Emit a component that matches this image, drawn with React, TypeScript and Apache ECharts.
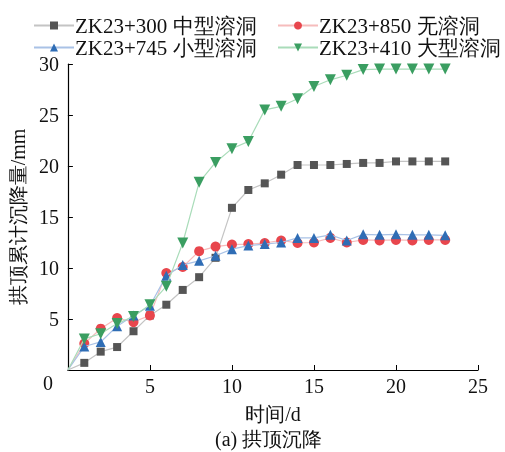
import React, { useEffect, useRef } from "react";
import * as echarts from "echarts";

const days = [0, 1, 2, 3, 4, 5, 6, 7, 8, 9, 10, 11, 12, 13, 14, 15, 16, 17, 18, 19, 20, 21, 22, 23];
const s300 = [0, 0.7, 1.8, 2.25, 3.8, 5.35, 6.4, 7.85, 9.1, 11.0, 15.9, 17.65, 18.3, 19.15, 20.1, 20.1, 20.1, 20.2, 20.3, 20.3, 20.45, 20.45, 20.45, 20.45];
const s850 = [0, 2.6, 4.05, 5.1, 4.7, 5.35, 9.5, 10.1, 11.65, 12.1, 12.3, 12.35, 12.45, 12.7, 12.45, 12.5, 12.95, 12.5, 12.75, 12.7, 12.75, 12.7, 12.75, 12.75];
const s745 = [0, 2.3, 2.75, 4.3, 5.35, 6.3, 9.25, 10.3, 10.7, 11.2, 11.85, 12.2, 12.35, 12.5, 12.95, 12.95, 13.25, 12.7, 13.3, 13.25, 13.3, 13.25, 13.25, 13.2];
const s410 = [0, 3.05, 3.55, 4.55, 5.25, 6.4, 8.2, 12.45, 18.4, 20.35, 21.7, 22.4, 25.5, 25.85, 26.6, 27.8, 28.45, 28.9, 29.45, 29.5, 29.5, 29.5, 29.5, 29.5];

const names = ["ZK23+300 中型溶洞", "ZK23+850 无溶洞", "ZK23+745 小型溶洞", "ZK23+410 大型溶洞"];
const xTicks = [0, 5, 10, 15, 20, 25];

const FONT = "Liberation Serif";

export default function App() {
  const ref = useRef<HTMLDivElement>(null);
  useEffect(() => {
    if (!ref.current) return;
    const chart = echarts.init(ref.current, null, { renderer: "svg" });
    const mk = (vals: number[]) =>
      days.map((d, i) => (i === 0 ? { value: [d, vals[i]], symbol: "none" } : [d, vals[i]]));
    const styles = [
      { sym: "rect", size: 8, mc: "#555555", lc: "#c4c4c4" },
      { sym: "circle", size: 10, mc: "#e8464d", lc: "#f6bcbc" },
      { sym: "triangle", size: 10, mc: "#2f6db5", lc: "#a9c2e6" },
      { sym: "path://M0,0 L10,0 L5,9 Z", size: 11, mc: "#3a9e61", lc: "#a9dcb9" },
    ];
    const data = [s300, s850, s745, s410];
    const legendPos = [
      { left: 28, top: 10 },
      { left: 272, top: 10 },
      { left: 28, top: 32 },
      { left: 272, top: 32 },
    ];
    chart.setOption({
      animation: false,
      textStyle: { fontFamily: FONT },
      legend: names.map((n, i) => ({
        data: [n],
        left: legendPos[i].left,
        top: legendPos[i].top,
        itemWidth: 40,
        itemHeight: 10,
        itemGap: 0,
        textStyle: { fontSize: 21, color: "#111", fontFamily: FONT, padding: [0, 0, 0, -4] },
      })),
      grid: { left: 62, right: 27, top: 64, bottom: 82 },
      xAxis: {
        type: "value",
        min: 0,
        max: 25,
        interval: 5,
        name: "时间/d",
        nameLocation: "middle",
        nameGap: 34,
        nameTextStyle: { fontSize: 20, color: "#111", fontFamily: FONT },
        axisLine: { show: true, lineStyle: { color: "#000", width: 1.2 } },
        axisTick: { show: true, inside: true, length: 5, lineStyle: { color: "#000" } },
        axisLabel: {
          fontSize: 20,
          color: "#111",
          margin: 6,
          fontFamily: FONT,
          formatter: (v: number) => (v === 0 ? "" : String(v)),
        },
        splitLine: { show: false },
      },
      yAxis: {
        type: "value",
        min: 0,
        max: 30,
        interval: 5,
        name: "拱顶累计沉降量/mm",
        nameLocation: "middle",
        nameGap: 36,
        nameTextStyle: { fontSize: 20, color: "#111", fontFamily: FONT },
        axisLine: { show: true, lineStyle: { color: "#000", width: 1.2 } },
        axisTick: { show: true, inside: true, length: 5, lineStyle: { color: "#000" } },
        axisLabel: {
          fontSize: 20,
          color: "#111",
          margin: 9,
          fontFamily: FONT,
          formatter: (v: number) => (v === 0 ? "" : String(v)),
        },
        splitLine: { show: false },
      },
      graphic: [
        {
          type: "text",
          left: 43,
          top: 373,
          style: { text: String(xTicks[0]), fontSize: 20, fill: "#111", fontFamily: FONT },
        },
        {
          type: "text",
          left: 215,
          top: 429,
          style: { text: "(a) 拱顶沉降", fontSize: 20, fill: "#111", fontFamily: FONT },
        },
      ],
      series: data.map((vals, i) => ({
        type: "line",
        name: names[i],
        data: mk(vals),
        symbol: styles[i].sym,
        symbolSize: styles[i].size,
        showSymbol: true,
        itemStyle: { color: styles[i].mc },
        lineStyle: { color: styles[i].lc, width: 1.2 },
        emphasis: { disabled: true },
        z: 2 + i,
      })),
    });
    return () => chart.dispose();
  }, []);
  return (
    <div
      ref={ref}
      style={{ position: "fixed", left: 0, top: 0, width: 505, height: 452 }}
    />
  );
}
